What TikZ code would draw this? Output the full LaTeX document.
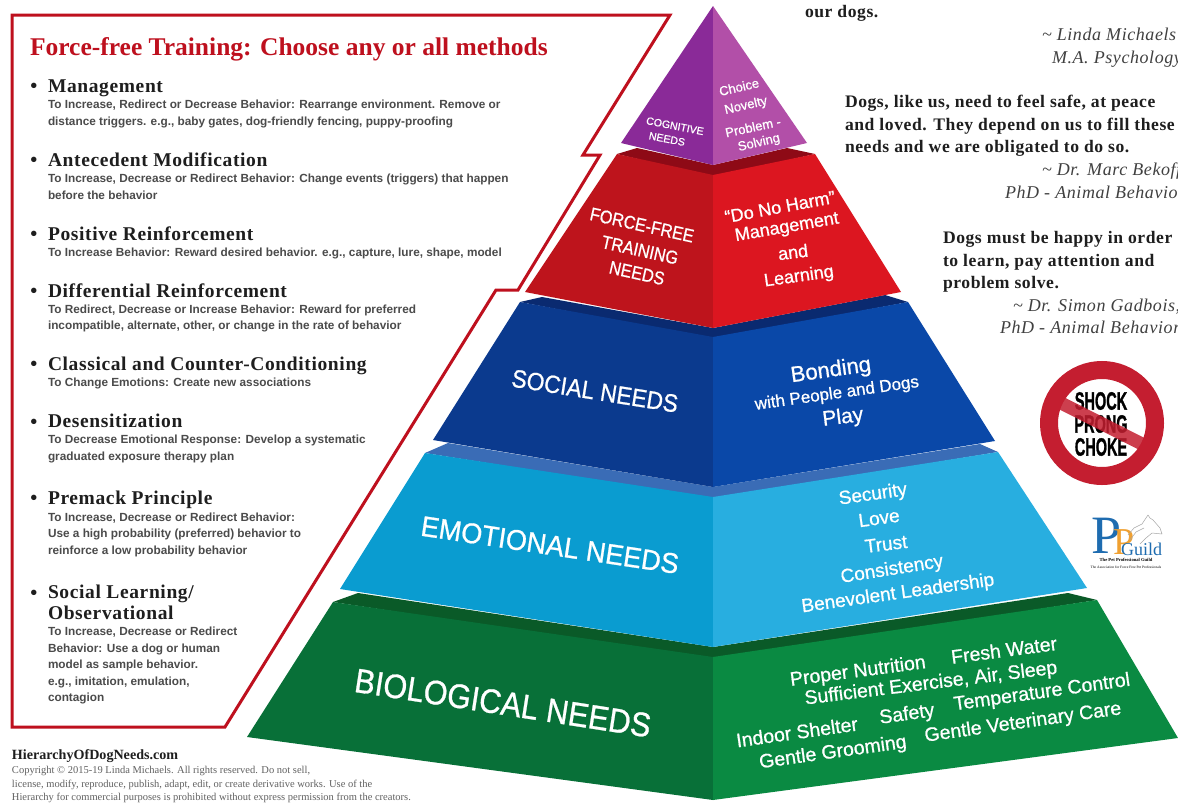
\documentclass[tikz,border=0pt]{standalone}
\usepackage{fontspec}
\setmainfont{Liberation Serif}
\setsansfont{Liberation Sans}
\newfontfamily\lsf[LetterSpace=3.2]{Liberation Serif}
\newfontfamily\pyrf[FakeBold=0.8]{Liberation Sans}
\newfontfamily\heavyf[BoldFont={Liberation Sans Bold},BoldFeatures={FakeBold=1.5}]{Liberation Sans}
\definecolor{ppl}{HTML}{8A2A98}\definecolor{ppr}{HTML}{B24FA8}
\definecolor{rdb}{HTML}{8E0A16}\definecolor{rdl}{HTML}{BE141C}\definecolor{rdr}{HTML}{DC1620}
\definecolor{blb}{HTML}{0A2A70}\definecolor{bll}{HTML}{0B3A8E}\definecolor{blr}{HTML}{0A48A8}
\definecolor{emb}{HTML}{3A6CB6}\definecolor{eml}{HTML}{0A9CD0}\definecolor{emr}{HTML}{28AEE0}
\definecolor{grb}{HTML}{0A5A28}\definecolor{grl}{HTML}{087038}\definecolor{grr}{HTML}{0A8A42}
\definecolor{frame}{HTML}{BE101E}\definecolor{nosign}{HTML}{C41E30}
\definecolor{inkt}{HTML}{1E1E1E}\definecolor{ppb}{HTML}{1E6CB0}\definecolor{ppo}{HTML}{F0A030}
\newcommand{\fs}[1]{\fontsize{#1}{#1}\selectfont}
\tikzset{
  every node/.style={inner sep=0pt,outer sep=0pt},
  title/.style={anchor=base west,font=\rmfamily\bfseries\fs{25.5},text=frame},
  bul/.style={font=\rmfamily\bfseries\fs{20},text=inkt},
  hd/.style={anchor=base west,font=\lsf\bfseries\fs{19.5},text=inkt},
  sub/.style={anchor=base west,font=\sffamily\bfseries\fs{11.8},text=inkt!80},
  quo/.style={anchor=base west,font=\lsf\bfseries\fs{17.6},text=inkt},
  att/.style={anchor=base west,font=\lsf\itshape\fs{18},text=inkt!85},
  wt/.style={text=white},
  chk/.style={font=\heavyf\bfseries\fs{25},text=black,xscale=.58},
}
\begin{document}
\begin{tikzpicture}[x=1pt,y=-1pt]
\useasboundingbox (0,0) rectangle (1178,803);
\clip (0,0) rectangle (1178,803);
\fill[white] (0,0) rectangle (1178,803);
% frame
\draw[frame,line width=3pt,miter limit=10] (12,15)--(670,15)--(583,155)--(600,155)--(518,290)--(496,290)--(225,727)--(12,727)--cycle;
% pyramid: green
\fill[grb] (358,593)--(713,647)--(1068,593)--(1097,600)--(713,660)--(333,602)--cycle;
\fill[grl] (333,602)--(713,657)--(713,800)--(247,737)--cycle;
\fill[grr] (713,657)--(1097,600)--(1178,738)--(713,800)--cycle;
% emotional
\fill[emb] (448,443)--(713,487)--(980,444)--(998,452)--(713,499)--(425,453)--cycle;
\fill[eml] (425,453)--(713,497)--(713,647)--(340,589)--cycle;
\fill[emr] (713,497)--(998,452)--(1087,588)--(713,647)--cycle;
% social
\fill[blb] (542,297)--(713,328)--(885,295)--(908,302)--(713,339)--(520,302)--cycle;
\fill[bll] (520,302)--(713,337)--(713,487)--(433,440)--cycle;
\fill[blr] (713,337)--(908,302)--(995,441)--(713,487)--cycle;
% red
\fill[rdb] (637,148)--(713,165)--(787,148)--(815,154)--(713,177)--(617,154)--cycle;
\fill[rdl] (617,154)--(713,175)--(713,328)--(525,292)--cycle;
\fill[rdr] (713,175)--(815,154)--(901,292)--(713,328)--cycle;
% purple
\fill[ppl] (713,6)--(713,165)--(621,143)--cycle;
\fill[ppr] (713,6)--(807,143)--(713,165)--cycle;
% pyramid text left
\node[wt,font=\pyrf\fs{10.6},rotate=-11] (c1) at (675,126) {COGNITIVE};
\node[wt,font=\pyrf\fs{10.6},rotate=-11] (c2) at (667,139) {NEEDS};
\node[wt,font=\pyrf\fs{18.5},rotate=-12.5,xscale=.88] (f1) at (642,225) {FORCE-FREE};
\node[wt,font=\pyrf\fs{18.5},rotate=-12.5,xscale=.88] (f2) at (640,250) {TRAINING};
\node[wt,font=\pyrf\fs{18.5},rotate=-12.5,xscale=.88] (f3) at (637,273) {NEEDS};
\node[wt,font=\pyrf\fs{25},rotate=-9,xscale=.91] (s1) at (595,391) {SOCIAL NEEDS};
\node[wt,font=\pyrf\fs{28.5},rotate=-8.5,xscale=.95] (e1) at (550,545) {EMOTIONAL NEEDS};
\node[wt,font=\pyrf\fs{34},rotate=-8.8,xscale=.9] (b1) at (503,703) {BIOLOGICAL NEEDS};
% pyramid text right
\node[wt,font=\pyrf\fs{13},rotate=13] (r1) at (739,87) {Choice};
\node[wt,font=\pyrf\fs{13},rotate=13] (r2) at (746,106) {Novelty};
\node[wt,font=\pyrf\fs{13},rotate=12] (r3) at (753,127) {Problem -};
\node[wt,font=\pyrf\fs{13},rotate=13] (r4) at (759,143) {Solving};
\node[wt,font=\pyrf\fs{18},rotate=10.5] (d1) at (780,207) {“Do No Harm”};
\node[wt,font=\pyrf\fs{18},rotate=9.8] (d2) at (787,228) {Management};
\node[wt,font=\pyrf\fs{18},rotate=7] (d3) at (793,252) {and};
\node[wt,font=\pyrf\fs{18},rotate=8] (d4) at (799,277) {Learning};
\node[wt,font=\pyrf\fs{22},rotate=8] (o1) at (831,371) {Bonding};
\node[wt,font=\pyrf\fs{17},rotate=8] (o2) at (837,394) {with People and Dogs};
\node[wt,font=\pyrf\fs{21},rotate=7] (o3) at (843,418) {Play};
\node[wt,font=\pyrf\fs{19},rotate=8] (m1) at (873,495) {Security};
\node[wt,font=\pyrf\fs{19},rotate=8] (m2) at (879,518) {Love};
\node[wt,font=\pyrf\fs{19},rotate=7] (m3) at (886,544) {Trust};
\node[wt,font=\pyrf\fs{19},rotate=9] (m4) at (892,570) {Consistency};
\node[wt,font=\pyrf\fs{19},rotate=8] (m5) at (898,594) {Benevolent Leadership};
\node[wt,font=\pyrf\fs{19.5},rotate=7.5] (g1) at (858,672) {Proper Nutrition};
\node[wt,font=\pyrf\fs{19.5},rotate=7.5] (g2) at (1004,650) {Fresh Water};
\node[wt,font=\pyrf\fs{19.5},rotate=7] (g3) at (931,684) {Sufficient Exercise, Air, Sleep};
\node[wt,font=\pyrf\fs{19.5},rotate=8] (g4) at (797,732) {Indoor Shelter};
\node[wt,font=\pyrf\fs{19.5},rotate=8] (g5) at (907,715) {Safety};
\node[wt,font=\pyrf\fs{19.5},rotate=8] (g6) at (1042,693) {Temperature Control};
\node[wt,font=\pyrf\fs{19.5},rotate=8] (g7) at (833,753) {Gentle Grooming};
\node[wt,font=\pyrf\fs{19.5},rotate=8] (g8) at (1023,723) {Gentle Veterinary Care};
% left panel
\node[title] (t) at (30,55) {Force-free Training: Choose any or all methods};
\node[bul] (p1) at (34,88) {•};\node[hd] (h1) at (48,92) {Management};
\node[sub] (s11) at (48,108) {To Increase, Redirect or Decrease Behavior: Rearrange environment. Remove or};
\node[sub] (s12) at (48,125) {distance triggers. e.g., baby gates, dog-friendly fencing, puppy-proofing};
\node[bul] (p2) at (34,162) {•};\node[hd] (h2) at (48,166) {Antecedent Modification};
\node[sub] (s21) at (48,182) {To Increase, Decrease or Redirect Behavior: Change events (triggers) that happen};
\node[sub] (s22) at (48,199) {before the behavior};
\node[bul] (p3) at (34,236) {•};\node[hd] (h3) at (48,240) {Positive Reinforcement};
\node[sub] (s31) at (48,256) {To Increase Behavior: Reward desired behavior. e.g., capture, lure, shape, model};
\node[bul] (p4) at (34,293) {•};\node[hd] (h4) at (48,297) {Differential Reinforcement};
\node[sub] (s41) at (48,313) {To Redirect, Decrease or Increase Behavior: Reward for preferred};
\node[sub] (s42) at (48,329) {incompatible, alternate, other, or change in the rate of behavior};
\node[bul] (p5) at (34,366) {•};\node[hd] (h5) at (48,370) {Classical and Counter-Conditioning};
\node[sub] (s51) at (48,386) {To Change Emotions: Create new associations};
\node[bul] (p6) at (34,424) {•};\node[hd] (h6) at (48,427) {Desensitization};
\node[sub] (s61) at (48,443) {To Decrease Emotional Response: Develop a systematic};
\node[sub] (s62) at (48,460) {graduated exposure therapy plan};
\node[bul] (p7) at (34,500) {•};\node[hd] (h7) at (48,504) {Premack Principle};
\node[sub] (s71) at (48,521) {To Increase, Decrease or Redirect Behavior:};
\node[sub] (s72) at (48,537) {Use a high probability (preferred) behavior to};
\node[sub] (s73) at (48,554) {reinforce a low probability behavior};
\node[bul] (p8) at (34,595) {•};\node[hd] (h8) at (48,598) {Social Learning/};
\node[hd] (h9) at (48,619) {Observational};
\node[sub] (s81) at (48,635) {To Increase, Decrease or Redirect};
\node[sub] (s82) at (48,652) {Behavior: Use a dog or human};
\node[sub] (s83) at (48,668) {model as sample behavior.};
\node[sub] (s84) at (48,685) {e.g., imitation, emulation,};
\node[sub] (s85) at (48,701) {contagion};
% footer
\node[anchor=base west,font=\rmfamily\bfseries\fs{14.1},text=inkt] (w) at (12,759) {HierarchyOfDogNeeds.com};
\node[anchor=base west,font=\rmfamily\fs{10.5},text=inkt!70] (w1) at (12,773) {Copyright © 2015-19 Linda Michaels. All rights reserved. Do not sell,};
\node[anchor=base west,font=\rmfamily\fs{10.5},text=inkt!70] (w2) at (12,787) {license, modify, reproduce, publish, adapt, edit, or create derivative works. Use of the};
\node[anchor=base west,font=\rmfamily\fs{10.5},text=inkt!70] (w3) at (12,800) {Hierarchy for commercial purposes is prohibited without express permission from the creators.};
% quotes
\node[quo] (q0) at (805,17) {our dogs.};
\node[att] (q1) at (1042,40) {\textasciitilde{} Linda Michaels};
\node[att] (q2) at (1052,63) {M.A. Psychology};
\node[quo] (q3) at (845,107) {Dogs, like us, need to feel safe, at peace};
\node[quo] (q4) at (845,130) {and loved. They depend on us to fill these};
\node[quo] (q5) at (845,152) {needs and we are obligated to do so.};
\node[att] (q6) at (1042,175) {\textasciitilde{} Dr. Marc Bekoff};
\node[att] (q7) at (1005,198) {PhD - Animal Behavior};
\node[quo] (q8) at (943,243) {Dogs must be happy in order};
\node[quo] (q9) at (943,266) {to learn, pay attention and};
\node[quo] (q10) at (943,288) {problem solve.};
\node[att] (q11) at (1013,311) {\textasciitilde{} Dr. Simon Gadbois,};
\node[att] (q12) at (1000,333) {PhD - Animal Behavior};
% no sign
\coordinate (ns) at (1102,423);
\node[chk] (n1) at (1101,401) {SHOCK};
\node[chk] (n2) at (1101,424) {PRONG};
\node[chk] (n3) at (1101,447) {CHOKE};
\draw[nosign,line width=18pt] (ns) circle (53);
\draw[nosign,line width=13pt,opacity=.85] (1061,403)--(1142,444);
% guild logo
\node[font=\rmfamily\fs{54},text=ppb] (l1) at (1107,536) {P};
\node[font=\rmfamily\fs{38},text=ppo] (l2) at (1124,542) {P};
\node[anchor=base west,font=\rmfamily\fs{18},text=ppb] (l3) at (1121,555) {Guild};
\node[font=\rmfamily\bfseries\fs{4.6},text=black] (l4) at (1126,560) {The Pet Professional Guild};
\node[font=\rmfamily\fs{3.6},text=black] (l5) at (1126,567) {The Association for Force Free Pet Professionals};
\draw[gray!70,line width=.5pt,line join=round] (1128,535)--(1134,528)--(1142,524)--(1148,515)--(1150,518)--(1153,520)--(1160,528)--(1162,534)--(1152,533)--(1146,538)--(1140,544);
\draw[gray!70,line width=.5pt] (1130,540)--(1136,532)--(1144,528);
\end{tikzpicture}
\end{document}
